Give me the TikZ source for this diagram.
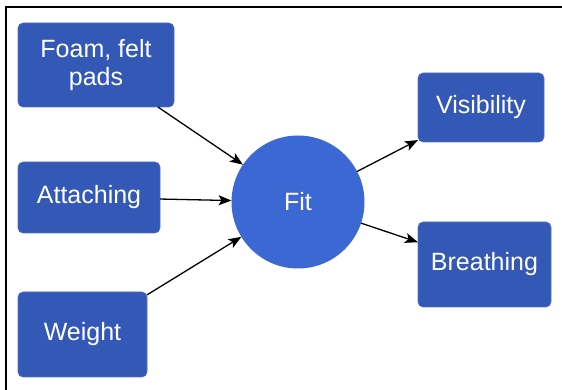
\documentclass[tikz,border=0pt]{standalone}
\usepackage{fontspec}
\setmainfont{Liberation Sans}
\usetikzlibrary{arrows.meta}
\definecolor{boxblue}{HTML}{3458B6}
\definecolor{circblue}{HTML}{3B68D2}
\begin{document}
\begin{tikzpicture}[x=1pt,y=1pt,
  box/.style={rectangle, rounded corners=5pt, fill=boxblue, draw=boxblue!85!white, line width=0.6pt,
    text=white, align=center, inner sep=0pt, outer sep=0pt,
    font=\fontsize{25}{28}\selectfont},
  hub/.style={circle, fill=circblue, text=white, inner sep=0pt, outer sep=0pt,
    minimum size=133pt, font=\fontsize{25}{28}\selectfont},
  conn/.style={-{Stealth[length=13pt,width=10pt,inset=3pt]}, line width=1.3pt, black}]
\useasboundingbox (0,0) rectangle (562,390);
\draw[line width=1.8pt] (6,0) -- (6,383) -- (562,383);
\node[box, minimum width=156pt, minimum height=84pt] (foam) at (96,325) {Foam, felt\\pads};
\node[box, minimum width=142pt, minimum height=71pt] (attach) at (89,192.5) {Attaching};
\node[box, minimum width=129pt, minimum height=85pt] (weight) at (82.5,55.5) {Weight};
\node[box, minimum width=126pt, minimum height=69pt] (vis) at (481,282.5) {Visibility};
\node[box, minimum width=133pt, minimum height=85pt] (breath) at (484.5,125.5) {Breathing};
\node[hub] (fit) at (298,188) {Fit};
\draw[conn] (foam) -- (fit);
\draw[conn] (attach) -- (fit);
\draw[conn] (weight) -- (fit);
\draw[conn] (fit) -- (vis);
\draw[conn] (fit) -- (breath);
\end{tikzpicture}
\end{document}
